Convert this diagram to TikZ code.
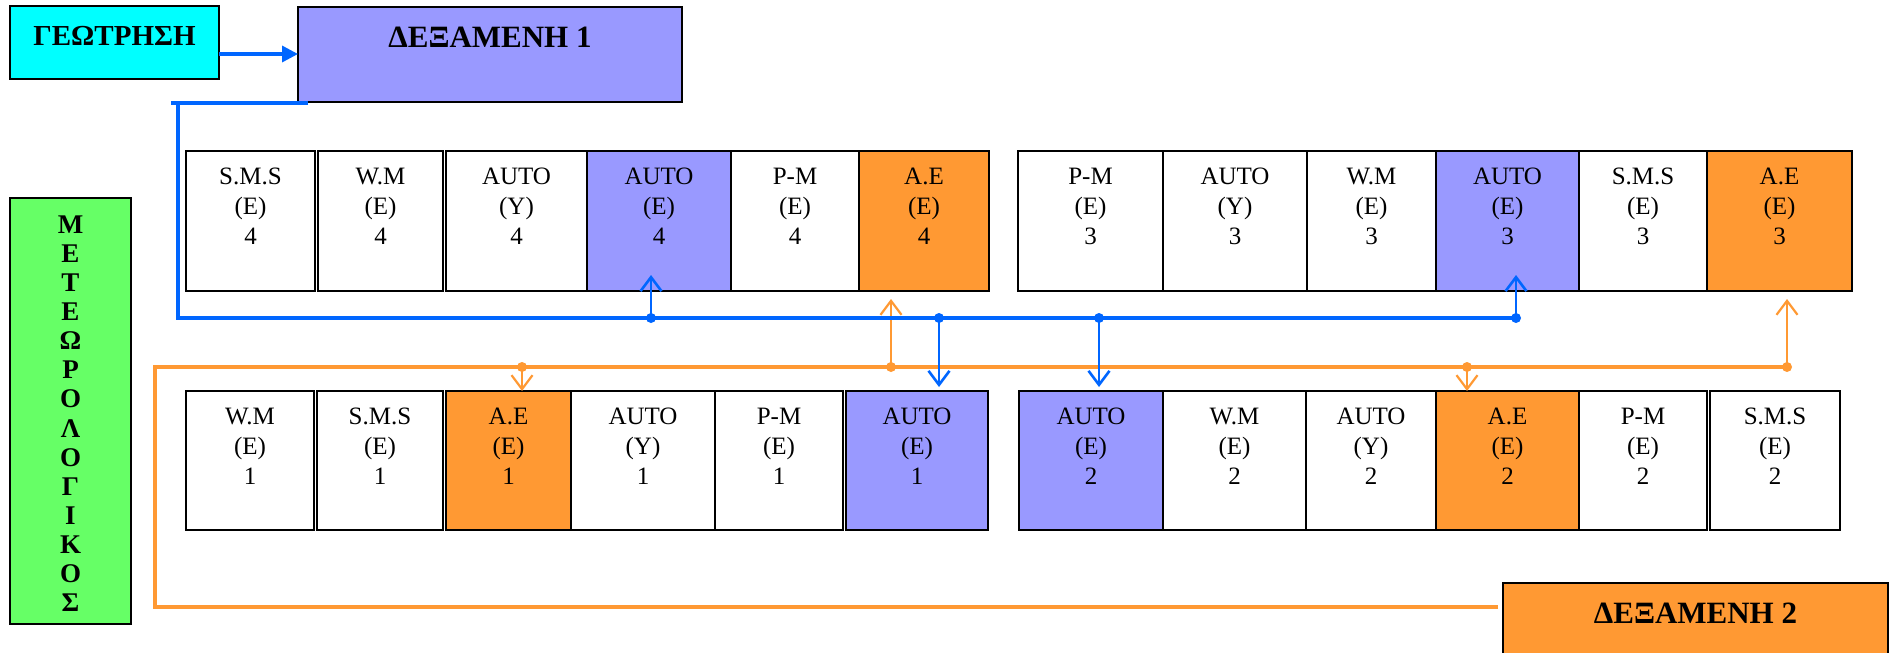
\documentclass[tikz,border=0pt]{standalone}
\usepackage{fontspec}
\setmainfont{Liberation Serif}
\usetikzlibrary{arrows.meta,calc}
\definecolor{busblue}{HTML}{0066FF}
\definecolor{busorange}{HTML}{FF9933}
\definecolor{tankblue}{HTML}{9999FF}
\definecolor{geocyan}{HTML}{00FFFF}
\definecolor{metgreen}{HTML}{66FF66}
\tikzset{
  cellbox/.style={draw=black, line width=0.8pt, rectangle, inner sep=0pt, outer sep=0pt},
  celltext/.style={anchor=north, align=center, inner sep=0pt, font=\fontsize{12.5}{15}\selectfont},
  headtext/.style={anchor=base, inner sep=0pt, font=\bfseries\fontsize{14.5}{17}\selectfont},
  tanktext/.style={anchor=base, inner sep=0pt, font=\bfseries\fontsize{15.5}{18}\selectfont},
  metl/.style={anchor=base, inner sep=0pt, font=\bfseries\fontsize{13.5}{16}\selectfont},
  bluebus/.style={draw=busblue, line width=1.7pt},
  orbus/.style={draw=busorange, line width=1.6pt},
  geoarrow/.style={draw=busblue, line width=1.7pt, -{Triangle[length=8pt,width=8pt]}},
  blueconn/.style={draw=busblue, line width=1.3pt, -{Straight Barb[length=7pt,width=10.5pt]}},
  orconn/.style={draw=busorange, line width=1.1pt, -{Straight Barb[length=7pt,width=10.5pt]}},
}
\begin{document}
\begin{tikzpicture}[x=0.5pt,y=-0.5pt]
\useasboundingbox (0,0) rectangle (1890,653);
\fill[white] (0,0) rectangle (1890,653);

% top boxes
\node[cellbox, fill=geocyan, minimum width=104.5pt, minimum height=36.5pt, anchor=north west] (geo) at (10,6) {};
\node[headtext] (geot) at (114.5,46) {ΓΕΩΤΡΗΣΗ};
\node[cellbox, fill=tankblue, minimum width=192pt, minimum height=47.5pt, anchor=north west] (dex1) at (298,7) {};
\node[tanktext] (dex1t) at (490,47) {ΔΕΞΑΜΕΝΗ 1};
\node[cellbox, fill=busorange, minimum width=192.5pt, minimum height=60pt, anchor=north west] (dex2) at (1503,583) {};
\node[tanktext] (dex2t) at (1695.5,623) {ΔΕΞΑΜΕΝΗ 2};
\node[cellbox, fill=metgreen, minimum width=60.5pt, minimum height=213pt, anchor=north west] (met) at (10,198) {};
\foreach \l [count=\i] in {Μ,Ε,Τ,Ε,Ω,Ρ,Ο,Λ,Ο,Γ,Ι,Κ,Ο,Σ}
  \node[metl] (ml\i) at (70.5,{233+(\i-1)*29.15}) {\l};

% top row cells
\foreach \n/\xa/\xb/\st/\t in {
  sms4/186/315/white/{S.M.S\\(E)\\4},
  wm4/318/443/white/{W.M\\(E)\\4},
  auto4y/446/587/white/{AUTO\\(Y)\\4},
  auto4e/587/731/tankblue/{AUTO\\(E)\\4},
  pm4/731/859/white/{P-M\\(E)\\4},
  ae4/859/989/busorange/{A.E\\(E)\\4},
  pm3/1018/1163/white/{P-M\\(E)\\3},
  auto3y/1163/1307/white/{AUTO\\(Y)\\3},
  wm3/1307/1436/white/{W.M\\(E)\\3},
  auto3e/1436/1579/tankblue/{AUTO\\(E)\\3},
  sms3/1579/1707/white/{S.M.S\\(E)\\3},
  ae3/1707/1852/busorange/{A.E\\(E)\\3}}
{
  \node[cellbox, fill=\st, anchor=north west, minimum width={(\xb-\xa)*0.5pt}, minimum height=70pt] (\n) at (\xa,151) {};
  \node[celltext] (\n-t) at ({(\xa+\xb)/2},168) {\t};
}

% bottom row cells
\foreach \n/\xa/\xb/\st/\t in {
  wm1/186/314/white/{W.M\\(E)\\1},
  sms1/317/443/white/{S.M.S\\(E)\\1},
  ae1/446/571/busorange/{A.E\\(E)\\1},
  auto1y/571/715/white/{AUTO\\(Y)\\1},
  pm1/715/843/white/{P-M\\(E)\\1},
  auto1e/846/988/tankblue/{AUTO\\(E)\\1},
  auto2e/1019/1163/tankblue/{AUTO\\(E)\\2},
  wm2/1163/1306/white/{W.M\\(E)\\2},
  auto2y/1306/1436/white/{AUTO\\(Y)\\2},
  ae2/1436/1579/busorange/{A.E\\(E)\\2},
  pm2/1579/1707/white/{P-M\\(E)\\2},
  sms2/1710/1840/white/{S.M.S\\(E)\\2}}
{
  \node[cellbox, fill=\st, anchor=north west, minimum width={(\xb-\xa)*0.5pt}, minimum height=69.5pt] (\n) at (\xa,391) {};
  \node[celltext] (\n-t) at ({(\xa+\xb)/2},408) {\t};
}

% bus coordinates
\coordinate (bd1) at (651,318);
\coordinate (bd2) at (939,318);
\coordinate (bd3) at (1099,318);
\coordinate (bd4) at (1516,318);
\coordinate (od1) at (522,367);
\coordinate (od2) at (891,367);
\coordinate (od3) at (1467,367);
\coordinate (od4) at (1787,367);
\coordinate (bA) at (171,103);
\coordinate (bB) at (178,101);
\coordinate (bC) at (178,318);
\coordinate (oA) at ($(dex2.north west)+(-5,24)$);
\coordinate (oB) at (155,607);
\coordinate (oC) at (155,367);

% orange bus
\draw[orbus] (oA) -- (oB) -- (oC) -- (od4);
\draw[orconn] (od1) -- (od1 |- ae1.north);
\draw[orconn] (od3) -- (od3 |- ae2.north);
\draw[orconn] (od2) -- ($(od2 |- ae4.south)+(0,8)$);
\draw[orconn] (od4) -- ($(od4 |- ae3.south)+(0,8)$);

% blue bus
\draw[bluebus] ($(dex1.south west)+(10,1)$) -- (bA);
\draw[bluebus] (bB) -- (bC) -- (bd4);
\draw[blueconn] (bd1) -- ($(bd1 |- auto4e.south)+(0,-16)$);
\draw[blueconn] (bd4) -- ($(bd4 |- auto3e.south)+(0,-16)$);
\draw[blueconn] (bd2) -- ($(bd2 |- auto1e.north)+(0,-4)$);
\draw[blueconn] (bd3) -- ($(bd3 |- auto2e.north)+(0,-4)$);

% geotrisi arrow
\coordinate (ga) at ($(geo.east)+(0,11.5)$);
\draw[geoarrow] (ga) -- (ga -| dex1.west);

% dots
\foreach \d in {bd1,bd2,bd3,bd4} \fill[busblue] (\d) circle (2.5pt);
\foreach \d in {od1,od2,od3,od4} \fill[busorange] (\d) circle (2.5pt);
\end{tikzpicture}
\end{document}
